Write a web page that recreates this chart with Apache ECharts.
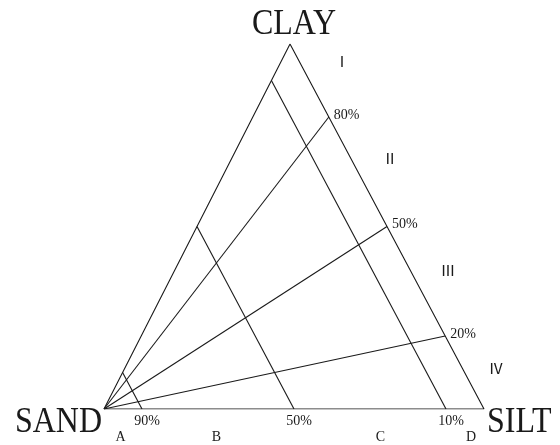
<!DOCTYPE html>
<html>
<head>
<meta charset="utf-8">
<script src="https://cdn.jsdelivr.net/npm/echarts@6/dist/echarts.min.js"></script>
<style>
html, body { margin: 0; background: #fff; }
#chart { width: 560px; height: 445px; }
</style>
</head>
<body>
<div id="chart"></div>
<script>
var vertexNames = ['SAND', 'SILT', 'CLAY'];
var sandLevels = [90, 50, 10];      // sand %, lines parallel to the silt-clay side
var clayRatios = [80, 50, 20];      // clay/(clay+silt) %, lines out of the sand corner
var zoneNames = ['Ⅰ', 'Ⅱ', 'Ⅲ', 'Ⅳ'];
var classNames = ['A', 'B', 'C', 'D'];

// the apex is drawn a little left of the middle of the base
var APEX = 0.4895;
function xy(sand, silt, clay) {
    var t = sand + silt + clay;
    return [(silt + clay * APEX) / t, clay / t];
}

var ink = '#1a1a1a';
var serif = '"Liberation Serif", "DejaVu Serif", serif';

function pctLabel(txt, position, offset) {
    return {
        show: true,
        position: position,
        distance: 5,
        offset: offset,
        formatter: txt,
        color: ink,
        fontFamily: serif,
        fontSize: 14
    };
}

function seg(a, b) {
    return {
        type: 'line',
        data: [a, b],
        symbol: 'circle',
        symbolSize: 0.1,
        showSymbol: true,
        itemStyle: { color: ink },
        lineStyle: { color: ink, width: 1.1 },
        silent: true
    };
}

var series = [];

// outline
var outline = seg(xy(100, 0, 0), xy(0, 100, 0));
outline.data = [xy(100, 0, 0), xy(0, 100, 0), xy(0, 0, 100), xy(100, 0, 0)];
series.push(outline);

// lines from the sand corner to the silt-clay side
clayRatios.forEach(function (r) {
    series.push(seg(
        { value: xy(100, 0, 0) },
        { value: xy(0, 100 - r, r), label: pctLabel(r + '%', 'right', [0, -2]) }
    ));
});

// constant sand lines
sandLevels.forEach(function (s) {
    series.push(seg(
        { value: xy(s, 100 - s, 0), label: pctLabel(s + '%', 'bottom', [5, 0]) },
        { value: xy(s, 0, 100 - s) }
    ));
});

function text(str, x, y, font, align, sy) {
    return {
        type: 'text',
        x: x,
        y: y,
        scaleY: sy || 1,
        style: {
            text: str,
            font: font,
            fill: ink,
            align: align || 'center',
            verticalAlign: 'middle'
        }
    };
}

var big = '32px ' + serif;
var small = '14px ' + serif;
var roman = '15px "Noto Sans CJK SC", "DejaVu Sans", sans-serif';

var graphics = [
    text(vertexNames[2], 294, 25, big, 'center', 1.12),
    text(vertexNames[0], 102, 423, big, 'right', 1.12),
    text(vertexNames[1], 487, 423, big, 'left', 1.12),
    text(zoneNames[0], 342, 61, roman),
    text(zoneNames[1], 390, 158, roman),
    text(zoneNames[2], 448, 270, roman),
    text(zoneNames[3], 496, 368, roman),
    text(classNames[0], 120.5, 437, small),
    text(classNames[1], 216.5, 437, small),
    text(classNames[2], 380.5, 437, small),
    text(classNames[3], 471, 437, small)
];

var chart = echarts.init(document.getElementById('chart'));

var option = {
    animation: false,
    grid: { left: 104, right: 76, top: 44, bottom: 36 },
    xAxis: { type: 'value', min: 0, max: 1, show: false },
    yAxis: { type: 'value', min: 0, max: 1, show: false },
    series: series,
    graphic: graphics
};

chart.setOption(option);
</script>
</body>
</html>
